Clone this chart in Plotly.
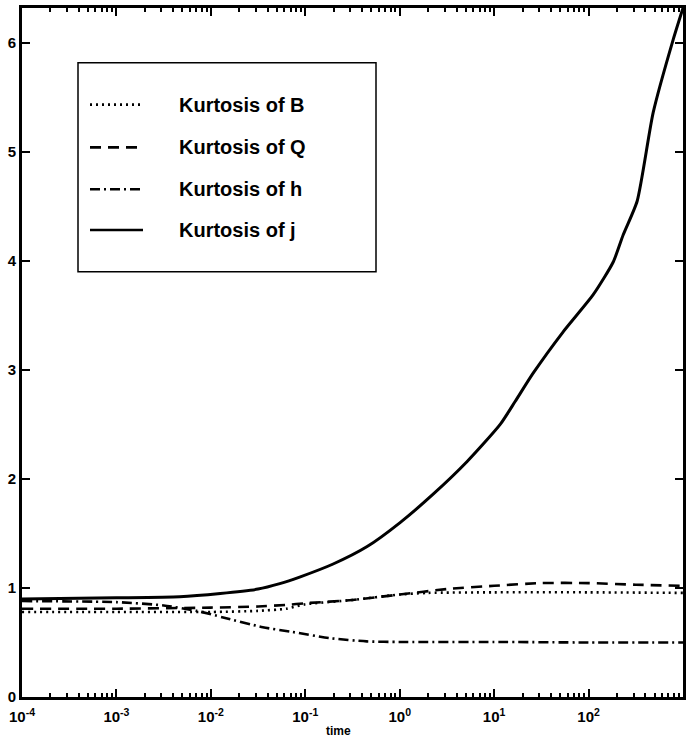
import plotly.graph_objects as go

# log10(time) sample points and kurtosis values for each quantity
lt_B = [-4, -3, -2, -1.5, -1.2, -1.0, -0.5, 0.0, 0.3, 1.0, 2.0, 3.0]
kurt_B = [0.78, 0.78, 0.78, 0.79, 0.81, 0.85, 0.89, 0.94, 0.955, 0.96, 0.96, 0.955]

lt_Q = [-4, -3, -2, -1.5, -1.2, -1.0, -0.5, 0.0, 0.5, 1.0, 1.5, 2.0, 2.5, 3.0]
kurt_Q = [0.81, 0.81, 0.82, 0.83, 0.845, 0.86, 0.89, 0.94, 0.99, 1.02, 1.045, 1.045, 1.03, 1.02]

lt_h = [-4, -3, -2.5, -2.15, -1.87, -1.45, -1.16, -0.74, -0.35, 0.0, 1.0, 2.0, 3.0]
kurt_h = [0.88, 0.87, 0.84, 0.79, 0.73, 0.64, 0.60, 0.54, 0.51, 0.505, 0.505, 0.50, 0.50]

lt_j = [-4, -3, -2.33, -1.9, -1.5, -1.27, -1.06, -0.705, -0.345, 0.004, 0.354,
        0.714, 1.064, 1.222, 1.413, 1.731, 2.049, 2.261, 2.367, 2.515, 2.684, 2.896, 3.0]
kurt_j = [0.90, 0.91, 0.92, 0.95, 0.99, 1.04, 1.10, 1.22, 1.38, 1.60, 1.86,
          2.16, 2.50, 2.71, 2.97, 3.35, 3.69, 3.99, 4.24, 4.55, 5.36, 6.03, 6.32]

labels = ["Kurtosis of B", "Kurtosis of Q", "Kurtosis of h", "Kurtosis of j"]
dashes = ["2px,4px", "11px,7px", "10px,4px,2px,4px", "solid"]

x_major = [-4, -3, -2, -1, 0, 1, 2, 3]
x_ticktext = ["10<sup>%d</sup>" % e for e in x_major]
y_ticks = [0, 1, 2, 3, 4, 5, 6]

FONT = "Liberation Sans"

fig = go.Figure()
series = [(lt_B, kurt_B), (lt_Q, kurt_Q), (lt_h, kurt_h), (lt_j, kurt_j)]
for (lt, k), name, dash in zip(series, labels, dashes):
    fig.add_trace(go.Scatter(
        x=[10 ** v for v in lt], y=k, mode="lines", name=name,
        line=dict(color="black", width=2.6 if dash != "solid" else 3, dash=dash,
                  shape="spline", smoothing=0.6),
        showlegend=False,
    ))

W, H = 691, 740
L, R, T, B = 22, 8, 5, 43
pw, ph = W - L - R, H - T - B

def px_x(p):
    return (p - L) / pw

def px_y(p):
    return (H - B - p) / ph

# boxed key in the upper-left
fig.add_shape(type="rect", xref="paper", yref="paper",
              x0=px_x(78), x1=px_x(376), y0=px_y(270), y1=px_y(60),
              line=dict(color="black", width=1.5), fillcolor="white", layer="above")
rows = [102, 145, 187, 228]
for r, name, dash in zip(rows, labels, dashes):
    fig.add_shape(type="line", xref="paper", yref="paper",
                  x0=px_x(90), x1=px_x(143), y0=px_y(r), y1=px_y(r),
                  line=dict(color="black", width=2.6, dash=dash), layer="above")
    fig.add_annotation(xref="paper", yref="paper", x=px_x(177), y=px_y(r),
                       text=name, showarrow=False, xanchor="left", yanchor="middle",
                       font=dict(family=FONT, size=20, color="black", weight="bold"))

fig.add_annotation(xref="paper", yref="paper", x=px_x(338), y=px_y(731),
                   text="time", showarrow=False, xanchor="center", yanchor="middle",
                   font=dict(family=FONT, size=12, color="black", weight="bold"))

minor_vals = [k * 10 ** e for e in range(-4, 3) for k in range(2, 10)]

fig.update_xaxes(
    type="log", range=[-4, 3], tickvals=[10 ** e for e in x_major], ticktext=x_ticktext,
    ticks="inside", ticklen=8, tickwidth=1.5, tickcolor="black",
    showline=True, linecolor="black", linewidth=3, mirror="allticks",
    showgrid=False, zeroline=False, ticklabelstandoff=4,
    tickfont=dict(family=FONT, size=15, color="black", weight="bold"),
    minor=dict(tickvals=minor_vals, ticks="inside", ticklen=4, tickwidth=1.5,
               tickcolor="black", showgrid=False),
)
fig.update_yaxes(
    range=[0, 6.32], tickvals=y_ticks,
    ticks="inside", ticklen=8, tickwidth=1.5, tickcolor="black",
    showline=True, linecolor="black", linewidth=3, mirror="allticks",
    showgrid=False, zeroline=False,
    tickfont=dict(family=FONT, size=15, color="black", weight="bold"),
)
fig.update_layout(
    width=W, height=H, margin=dict(l=L, r=R, t=T, b=B, pad=0),
    plot_bgcolor="white", paper_bgcolor="white",
)
fig.write_html("out.html")
